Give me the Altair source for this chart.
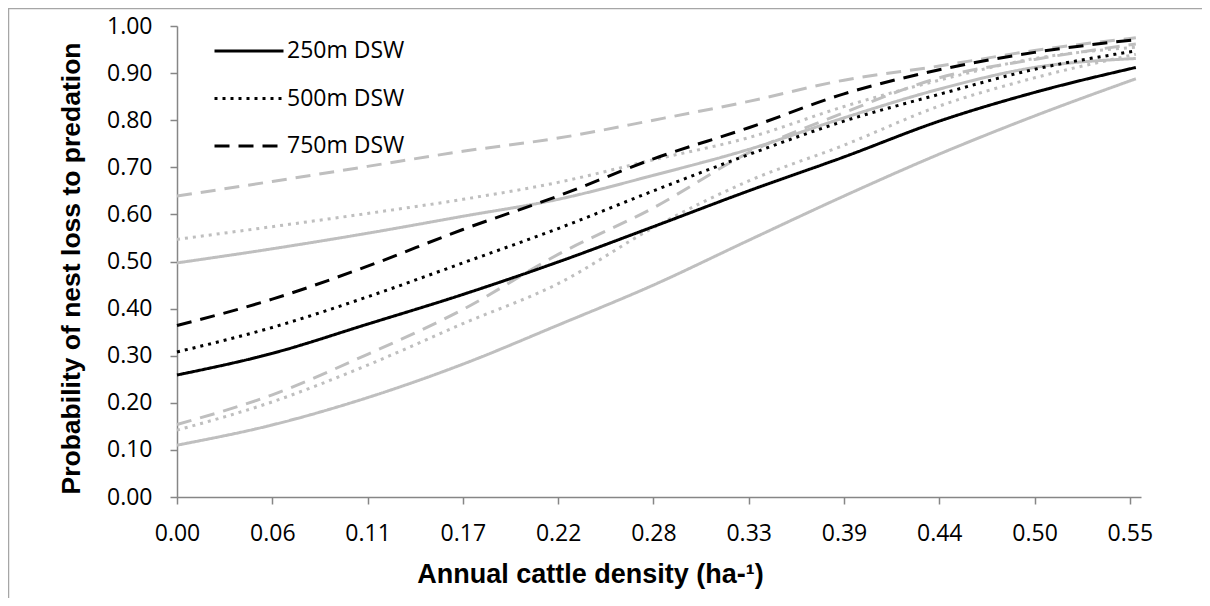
import altair as alt
import pandas as pd

# ---- data ----
x_vals = [0.0, 0.0555, 0.111, 0.1665, 0.222, 0.2775, 0.333, 0.3885, 0.444, 0.4995, 0.5585]

dsw_250 = [0.259, 0.305, 0.367, 0.430, 0.499, 0.574, 0.650, 0.722, 0.798, 0.859, 0.912]
dsw_250_lo = [0.110, 0.153, 0.211, 0.282, 0.365, 0.450, 0.545, 0.639, 0.728, 0.809, 0.888]
dsw_250_hi = [0.497, 0.527, 0.560, 0.596, 0.632, 0.683, 0.738, 0.805, 0.866, 0.912, 0.931]

dsw_500 = [0.308, 0.360, 0.425, 0.497, 0.570, 0.650, 0.727, 0.798, 0.855, 0.908, 0.947]
dsw_500_lo = [0.142, 0.202, 0.280, 0.368, 0.453, 0.572, 0.671, 0.747, 0.830, 0.890, 0.940]
dsw_500_hi = [0.547, 0.574, 0.602, 0.632, 0.668, 0.716, 0.763, 0.829, 0.885, 0.931, 0.955]

dsw_750 = [0.364, 0.420, 0.490, 0.568, 0.639, 0.718, 0.784, 0.856, 0.907, 0.944, 0.971]
dsw_750_lo = [0.154, 0.217, 0.303, 0.398, 0.515, 0.614, 0.731, 0.816, 0.890, 0.929, 0.962]
dsw_750_hi = [0.639, 0.670, 0.702, 0.734, 0.762, 0.800, 0.840, 0.885, 0.915, 0.948, 0.975]

series_names = ["250m DSW", "500m DSW", "750m DSW"]
x_tick_values = [0.0, 0.0555, 0.111, 0.1665, 0.222, 0.2775, 0.333, 0.3885, 0.444, 0.4995, 0.555]
x_tick_labels = ["0.00", "0.06", "0.11", "0.17", "0.22", "0.28", "0.33", "0.39", "0.44", "0.50", "0.55"]
y_tick_values = [0.0, 0.1, 0.2, 0.3, 0.4, 0.5, 0.6, 0.7, 0.8, 0.9, 1.0]

series = {
    ("250m DSW", "mean"): dsw_250, ("250m DSW", "lower"): dsw_250_lo, ("250m DSW", "upper"): dsw_250_hi,
    ("500m DSW", "mean"): dsw_500, ("500m DSW", "lower"): dsw_500_lo, ("500m DSW", "upper"): dsw_500_hi,
    ("750m DSW", "mean"): dsw_750, ("750m DSW", "lower"): dsw_750_lo, ("750m DSW", "upper"): dsw_750_hi,
}
rows = []
for (name, kind), vals in series.items():
    for xv, yv in zip(x_vals, vals):
        rows.append({"x": xv, "p": yv, "dsw": name, "kind": kind})
df = pd.DataFrame(rows)

dash_range = [[1, 0], [3, 5], [15, 9]]

label_expr = "[" + ",".join("'%s'" % s for s in x_tick_labels) + "][round(datum.value/0.0555)]"

x_enc = alt.X(
    "x:Q",
    scale=alt.Scale(domain=[0, 0.5615], nice=False, zero=False),
    axis=alt.Axis(
        values=x_tick_values,
        labelExpr=label_expr,
        labelFlush=False, labelOverlap=False,
        title="Annual cattle density (ha-¹)",
        titleX=413, titleY=85, titleAlign="center", titleBaseline="alphabetic", titleAngle=0,
        titleFontSize=27,
        labelPadding=18.5, tickSize=7, grid=False,
    ),
)
y_enc = alt.Y(
    "p:Q",
    scale=alt.Scale(domain=[0, 1], nice=False),
    axis=alt.Axis(
        values=y_tick_values, format=".2f",
        labelFlush=False, labelOverlap=False,
        title="Probability of nest loss to predation",
        titleX=-98, titleY=242, titleAlign="center", titleBaseline="alphabetic", titleAngle=270,
        titleFontSize=26.5,
        labelPadding=18, tickSize=7, grid=False,
    ),
)

grey = alt.Chart(df).transform_filter("datum.kind != 'mean'").mark_line(
    color="#BFBFBF", strokeWidth=3, interpolate="monotone"
).encode(
    x=x_enc, y=y_enc,
    strokeDash=alt.StrokeDash("dsw:N", scale=alt.Scale(domain=series_names, range=dash_range), legend=None),
    detail="kind:N",
)

black = alt.Chart(df).transform_filter("datum.kind == 'mean'").mark_line(
    color="black", strokeWidth=3, interpolate="monotone"
).encode(
    x=x_enc, y=y_enc,
    strokeDash=alt.StrokeDash(
        "dsw:N",
        scale=alt.Scale(domain=series_names, range=dash_range),
        legend=alt.Legend(
            title=None, orient="none", legendX=36, legendY=15,
            symbolType="stroke", symbolSize=4761, symbolStrokeWidth=3, symbolStrokeColor="black",
            labelFont="Open Sans", labelFontSize=23, labelColor="black", labelOffset=2,
            clipHeight=20, rowPadding=24.5, padding=0,
        ),
    ),
)

frame = alt.Data(values=[{}])
border_left = alt.Chart(frame).mark_rule(color="#A6A6A6", strokeWidth=1.5).encode(
    x=alt.value(-168.5), y=alt.value(-18), y2=alt.value(600)
)
border_top = alt.Chart(frame).mark_rule(color="#A6A6A6", strokeWidth=1.5).encode(
    x=alt.value(-169), x2=alt.value(1100), y=alt.value(-17.5)
)

chart = alt.layer(border_left, border_top, grey, black).resolve_scale(strokeDash="independent").properties(
    width=964, height=471,
    autosize=alt.AutoSizeParams(type="none"),
    padding={"left": 169, "top": 18, "right": 61, "bottom": 101},
).configure_view(stroke=None).configure_axis(
    domainColor="#868686", domainWidth=1.5, tickColor="#868686", tickWidth=1.5,
    labelFont="Open Sans", labelFontSize=23, labelColor="black",
    titleFont="Liberation Sans", titleFontWeight="bold", titleColor="black",
)

chart.save("out.html", embed_options={"renderer": "svg", "actions": False})
